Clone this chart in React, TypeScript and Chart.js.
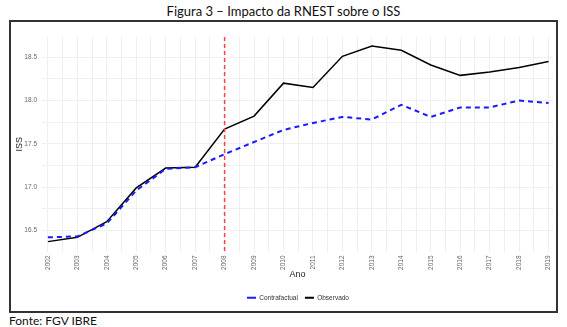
import React, { useEffect, useRef } from "react";
import { Chart, registerables } from "chart.js";

Chart.register(...registerables);

const years = [2002, 2003, 2004, 2005, 2006, 2007, 2008, 2009, 2010, 2011, 2012, 2013, 2014, 2015, 2016, 2017, 2018, 2019];
const observado = [16.37, 16.42, 16.6, 16.99, 17.22, 17.23, 17.67, 17.82, 18.2, 18.15, 18.51, 18.63, 18.58, 18.41, 18.29, 18.33, 18.38, 18.45];
const contrafactual = [16.42, 16.43, 16.58, 16.96, 17.21, 17.23, 17.38, 17.52, 17.66, 17.74, 17.81, 17.78, 17.95, 17.81, 17.92, 17.92, 18.0, 17.97];
const treatmentYear = 2008;
const seriesNames = ["Contrafactual", "Observado"];
const titleText = "Figura 3 – Impacto da RNEST sobre o ISS";
const sourceText = "Fonte: FGV IBRE";
const xTitle = "Ano";
const yTitle = "ISS";

const vlinePlugin = {
  id: "vline",
  afterLayout(chart: any) {
    // centre the legend under the plot panel, as ggplot does
    if (chart.legend) {
      chart.legend.left += 32;
    }
  },
  afterDatasetsDraw(chart: any) {
    const { ctx, chartArea, scales } = chart;
    const x = scales.x.getPixelForValue(treatmentYear);
    ctx.save();
    ctx.strokeStyle = "#ff4040";
    ctx.lineWidth = 1.5;
    ctx.setLineDash([4, 3]);
    ctx.beginPath();
    ctx.moveTo(x, chartArea.top);
    ctx.lineTo(x, chartArea.bottom);
    ctx.stroke();
    ctx.restore();
  },
};

export default function App() {
  const ref = useRef<HTMLCanvasElement | null>(null);
  useEffect(() => {
    if (!ref.current) return;
    const tickFont = { family: "Liberation Sans", size: 6.5 };
    const chart = new Chart(ref.current, {
      type: "line",
      data: {
        datasets: [
          {
            label: seriesNames[0],
            data: years.map((y, i) => ({ x: y, y: contrafactual[i] })),
            borderColor: "#1a1aff",
            backgroundColor: "#1a1aff",
            borderWidth: 2,
            borderDash: [5, 4],
            pointRadius: 0,
            tension: 0,
          },
          {
            label: seriesNames[1],
            data: years.map((y, i) => ({ x: y, y: observado[i] })),
            borderColor: "#000000",
            backgroundColor: "#000000",
            borderWidth: 1.5,
            pointRadius: 0,
            tension: 0,
          },
        ],
      },
      options: {
        animation: false,
        responsive: false,
        maintainAspectRatio: false,
        layout: { padding: { top: 15, right: 3, left: 0, bottom: 0 } },
        plugins: {
          title: { display: false },
          tooltip: { enabled: false },
          legend: {
            position: "bottom",
            labels: {
              font: { family: "Liberation Sans", size: 6.5 },
              color: "#333",
              boxWidth: 9,
              boxHeight: 2,
              padding: 7,
              generateLabels: (ch: any) =>
                ch.data.datasets.map((d: any, i: number) => ({
                  text: d.label,
                  fillStyle: d.borderColor,
                  strokeStyle: d.borderColor,
                  lineWidth: 0,
                  datasetIndex: i,
                  hidden: false,
                  fontColor: "#333",
                })),
            },
          },
        },
        scales: {
          x: {
            type: "linear",
            min: 2001.8,
            max: 2019.15,
            border: { display: false },
            grid: { color: "#efefef", drawTicks: false, lineWidth: 1 },
            ticks: {
              stepSize: 0.5,
              includeBounds: false,
              autoSkip: false,
              minRotation: 90,
              maxRotation: 90,
              padding: 4,
              color: "#666",
              font: tickFont,
              callback: (v: any) => (Number.isInteger(v) ? String(v) : ""),
            },
            title: {
              display: true,
              text: xTitle,
              color: "#222",
              font: { family: "Liberation Sans", size: 9 },
              padding: { top: 2, bottom: 8 },
            },
            afterFit: (s: any) => {
              s.height = 36;
              s.paddingLeft = 0;
              s.paddingRight = 0;
            },
          },
          y: {
            type: "linear",
            min: 16.256,
            max: 18.733,
            border: { display: false },
            grid: { color: "#efefef", drawTicks: false, lineWidth: 1 },
            ticks: {
              stepSize: 0.25,
              includeBounds: false,
              padding: 5,
              color: "#666",
              font: tickFont,
              callback: (v: any) => (Math.abs(v * 2 - Math.round(v * 2)) < 1e-6 ? Number(v).toFixed(1) : ""),
            },
            title: {
              display: true,
              text: yTitle,
              color: "#222",
              font: { family: "Liberation Sans", size: 9 },
              padding: { top: 3, bottom: 3 },
            },
            afterFit: (s: any) => {
              s.width = 31;
              s.paddingTop = 0;
              s.paddingBottom = 0;
            },
          },
        },
      },
      plugins: [vlinePlugin],
    });
    return () => chart.destroy();
  }, []);

  return (
    <div>
      <div
        style={{
          position: "absolute",
          left: 0,
          top: 3,
          width: 567,
          textAlign: "center",
          fontFamily: "Lato, 'Open Sans', sans-serif",
          fontSize: 13,
          color: "#111",
          lineHeight: "16px",
        }}
      >
        {titleText}
      </div>
      <div
        style={{
          position: "absolute",
          left: 9,
          top: 20,
          width: 545,
          height: 289,
          border: "2px solid #333",
          background: "#fff",
        }}
      >
        <canvas ref={ref} width={545} height={289} style={{ display: "block", width: 545, height: 289 }} />
      </div>
      <div
        style={{
          position: "absolute",
          left: 9,
          top: 314,
          fontFamily: "Lato, 'Open Sans', sans-serif",
          fontSize: 12,
          color: "#111",
          lineHeight: "14px",
        }}
      >
        {sourceText}
      </div>
    </div>
  );
}
